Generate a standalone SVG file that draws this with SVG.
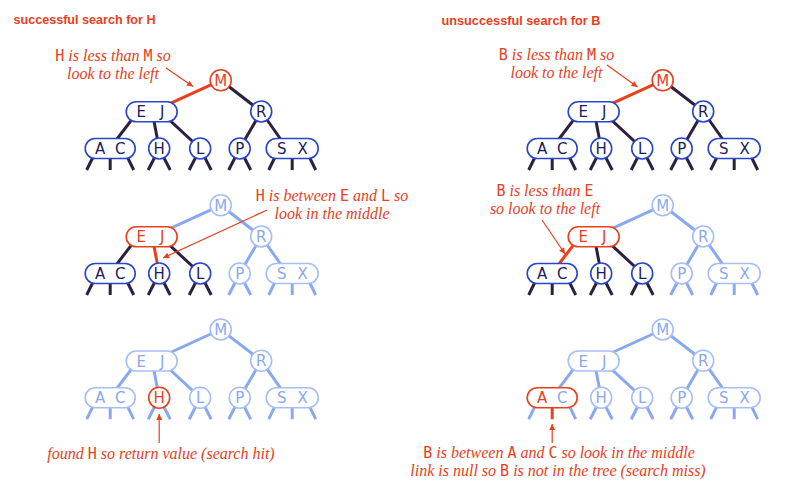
<svg xmlns="http://www.w3.org/2000/svg" width="808" height="494" viewBox="0 0 808 494">
<style>
.lk{stroke-width:3;fill:none}
.dk{stroke:#2d1f3f}
.lt{stroke:#88a8f0}
.rd{stroke:#e8401c}
.nd{fill:#fff;stroke-width:1.6}
.ndk{stroke:#2a46c8}
.nlt{stroke:#a6bef7}
.nrd{stroke:#e8401c}
.lbl{font-family:"DejaVu Sans",sans-serif;font-size:15px;text-anchor:middle}
.tdk{fill:#1c1c5c}
.tlt{fill:#8aa8f0}
.trd{fill:#e8401c}
.ttl{font-family:"Liberation Sans",Arial,sans-serif;font-weight:bold;font-size:13px;fill:#e8401c}
.ann{font-family:"Liberation Serif","Times New Roman",serif;font-style:italic;font-size:16px;fill:#e8401c;text-anchor:middle}
.k{font-family:"DejaVu Sans Mono",monospace;font-style:normal;font-size:15px}
.arr{stroke:#e8401c;stroke-width:1.2;fill:none;marker-end:url(#ah)}
</style>
<defs>
<marker id="ah" viewBox="0 0 10 10" refX="10" refY="5" markerWidth="8" markerHeight="6" orient="auto" markerUnits="userSpaceOnUse">
<path d="M0,0 L10,5 L0,10 z" fill="#e8401c"/>
</marker>
</defs>
<rect width="808" height="494" fill="#fff"/>

<text class="ttl" x="13.5" y="23.5" textLength="142" lengthAdjust="spacingAndGlyphs">successful search for H</text>
<text class="ttl" x="441.5" y="25" textLength="159" lengthAdjust="spacingAndGlyphs">unsuccessful search for B</text>

<!-- Tree 1 left -->
<g id="tree1-left" transform="translate(220.7,80.3)">
<g id="t1l-connectors">
<line class="lk rd" x1="0" y1="0" x2="-69" y2="31.5"/>
<line class="lk dk" x1="0" y1="0" x2="40.5" y2="31.2"/>
<line class="lk dk" x1="-83" y1="31.5" x2="-111" y2="68.2"/>
<line class="lk dk" x1="-68.5" y1="31.5" x2="-61.5" y2="68.2"/>
<line class="lk dk" x1="-60" y1="31.5" x2="-20.5" y2="68.2"/>
<line class="lk dk" x1="40.5" y1="31.2" x2="19" y2="68.2"/>
<line class="lk dk" x1="40.5" y1="31.2" x2="66.5" y2="68.2"/>
<line class="lk dk" x1="-123.5" y1="68.2" x2="-134" y2="89.7"/>
<line class="lk dk" x1="-110.5" y1="68.2" x2="-110.5" y2="89.7"/>
<line class="lk dk" x1="-97.5" y1="68.2" x2="-87" y2="89.7"/>
<line class="lk dk" x1="-61.5" y1="68.2" x2="-72.5" y2="89.7"/>
<line class="lk dk" x1="-61.5" y1="68.2" x2="-50.5" y2="89.7"/>
<line class="lk dk" x1="-20.5" y1="68.2" x2="-31.5" y2="89.7"/>
<line class="lk dk" x1="-20.5" y1="68.2" x2="-9.5" y2="89.7"/>
<line class="lk dk" x1="19" y1="68.2" x2="8" y2="89.7"/>
<line class="lk dk" x1="19" y1="68.2" x2="30" y2="89.7"/>
<line class="lk dk" x1="58.5" y1="68.2" x2="48" y2="89.7"/>
<line class="lk dk" x1="71.5" y1="68.2" x2="71.5" y2="89.7"/>
<line class="lk dk" x1="84.5" y1="68.2" x2="95" y2="89.7"/>
</g>
<g id="t1l-M"><circle class="nd nrd" cx="0" cy="0" r="10.5"/><text class="lbl trd" x="0" y="5.5">M</text></g>
<g id="t1l-EJ"><rect class="nd ndk" x="-94.5" y="21.5" width="51" height="20" rx="10"/><text class="lbl tdk" x="-79.5" y="37">E</text><text class="lbl tdk" x="-58.5" y="37">J</text></g>
<g id="t1l-R"><circle class="nd ndk" cx="40.5" cy="31.2" r="10.5"/><text class="lbl tdk" x="40.5" y="36.7">R</text></g>
<g id="t1l-AC"><rect class="nd ndk" x="-135.5" y="58.2" width="50" height="20" rx="10"/><text class="lbl tdk" x="-120.5" y="73.7">A</text><text class="lbl tdk" x="-100.5" y="73.7">C</text></g>
<g id="t1l-H"><circle class="nd ndk" cx="-61.5" cy="68.2" r="10.5"/><text class="lbl tdk" x="-61.5" y="73.7">H</text></g>
<g id="t1l-L"><circle class="nd ndk" cx="-20.5" cy="68.2" r="10.5"/><text class="lbl tdk" x="-20.5" y="73.7">L</text></g>
<g id="t1l-P"><circle class="nd ndk" cx="19" cy="68.2" r="10.5"/><text class="lbl tdk" x="19" y="73.7">P</text></g>
<g id="t1l-SX"><rect class="nd ndk" x="45.5" y="58.2" width="52" height="20" rx="10"/><text class="lbl tdk" x="61" y="73.7">S</text><text class="lbl tdk" x="82" y="73.7">X</text></g>
</g>

<!-- Tree 1 right -->
<g id="tree1-right" transform="translate(662.7,80.3)">
<g id="t1r-connectors">
<line class="lk rd" x1="0" y1="0" x2="-69" y2="31.5"/>
<line class="lk dk" x1="0" y1="0" x2="40.5" y2="31.2"/>
<line class="lk dk" x1="-83" y1="31.5" x2="-111" y2="68.2"/>
<line class="lk dk" x1="-68.5" y1="31.5" x2="-61.5" y2="68.2"/>
<line class="lk dk" x1="-60" y1="31.5" x2="-20.5" y2="68.2"/>
<line class="lk dk" x1="40.5" y1="31.2" x2="19" y2="68.2"/>
<line class="lk dk" x1="40.5" y1="31.2" x2="66.5" y2="68.2"/>
<line class="lk dk" x1="-123.5" y1="68.2" x2="-134" y2="89.7"/>
<line class="lk dk" x1="-110.5" y1="68.2" x2="-110.5" y2="89.7"/>
<line class="lk dk" x1="-97.5" y1="68.2" x2="-87" y2="89.7"/>
<line class="lk dk" x1="-61.5" y1="68.2" x2="-72.5" y2="89.7"/>
<line class="lk dk" x1="-61.5" y1="68.2" x2="-50.5" y2="89.7"/>
<line class="lk dk" x1="-20.5" y1="68.2" x2="-31.5" y2="89.7"/>
<line class="lk dk" x1="-20.5" y1="68.2" x2="-9.5" y2="89.7"/>
<line class="lk dk" x1="19" y1="68.2" x2="8" y2="89.7"/>
<line class="lk dk" x1="19" y1="68.2" x2="30" y2="89.7"/>
<line class="lk dk" x1="58.5" y1="68.2" x2="48" y2="89.7"/>
<line class="lk dk" x1="71.5" y1="68.2" x2="71.5" y2="89.7"/>
<line class="lk dk" x1="84.5" y1="68.2" x2="95" y2="89.7"/>
</g>
<g id="t1r-M"><circle class="nd nrd" cx="0" cy="0" r="10.5"/><text class="lbl trd" x="0" y="5.5">M</text></g>
<g id="t1r-EJ"><rect class="nd ndk" x="-94.5" y="21.5" width="51" height="20" rx="10"/><text class="lbl tdk" x="-79.5" y="37">E</text><text class="lbl tdk" x="-58.5" y="37">J</text></g>
<g id="t1r-R"><circle class="nd ndk" cx="40.5" cy="31.2" r="10.5"/><text class="lbl tdk" x="40.5" y="36.7">R</text></g>
<g id="t1r-AC"><rect class="nd ndk" x="-135.5" y="58.2" width="50" height="20" rx="10"/><text class="lbl tdk" x="-120.5" y="73.7">A</text><text class="lbl tdk" x="-100.5" y="73.7">C</text></g>
<g id="t1r-H"><circle class="nd ndk" cx="-61.5" cy="68.2" r="10.5"/><text class="lbl tdk" x="-61.5" y="73.7">H</text></g>
<g id="t1r-L"><circle class="nd ndk" cx="-20.5" cy="68.2" r="10.5"/><text class="lbl tdk" x="-20.5" y="73.7">L</text></g>
<g id="t1r-P"><circle class="nd ndk" cx="19" cy="68.2" r="10.5"/><text class="lbl tdk" x="19" y="73.7">P</text></g>
<g id="t1r-SX"><rect class="nd ndk" x="45.5" y="58.2" width="52" height="20" rx="10"/><text class="lbl tdk" x="61" y="73.7">S</text><text class="lbl tdk" x="82" y="73.7">X</text></g>
</g>

<!-- Tree 2 left -->
<g id="tree2-left" transform="translate(220.7,205.3)">
<g id="t2l-connectors">
<line class="lk lt" x1="0" y1="0" x2="-69" y2="31.5"/>
<line class="lk lt" x1="0" y1="0" x2="40.5" y2="31.2"/>
<line class="lk dk" x1="-83" y1="31.5" x2="-111" y2="68.2"/>
<line class="lk rd" x1="-68.5" y1="31.5" x2="-61.5" y2="68.2"/>
<line class="lk dk" x1="-60" y1="31.5" x2="-20.5" y2="68.2"/>
<line class="lk lt" x1="40.5" y1="31.2" x2="19" y2="68.2"/>
<line class="lk lt" x1="40.5" y1="31.2" x2="66.5" y2="68.2"/>
<line class="lk dk" x1="-123.5" y1="68.2" x2="-134" y2="89.7"/>
<line class="lk dk" x1="-110.5" y1="68.2" x2="-110.5" y2="89.7"/>
<line class="lk dk" x1="-97.5" y1="68.2" x2="-87" y2="89.7"/>
<line class="lk dk" x1="-61.5" y1="68.2" x2="-72.5" y2="89.7"/>
<line class="lk dk" x1="-61.5" y1="68.2" x2="-50.5" y2="89.7"/>
<line class="lk dk" x1="-20.5" y1="68.2" x2="-31.5" y2="89.7"/>
<line class="lk dk" x1="-20.5" y1="68.2" x2="-9.5" y2="89.7"/>
<line class="lk lt" x1="19" y1="68.2" x2="8" y2="89.7"/>
<line class="lk lt" x1="19" y1="68.2" x2="30" y2="89.7"/>
<line class="lk lt" x1="58.5" y1="68.2" x2="48" y2="89.7"/>
<line class="lk lt" x1="71.5" y1="68.2" x2="71.5" y2="89.7"/>
<line class="lk lt" x1="84.5" y1="68.2" x2="95" y2="89.7"/>
</g>
<g id="t2l-M"><circle class="nd nlt" cx="0" cy="0" r="10.5"/><text class="lbl tlt" x="0" y="5.5">M</text></g>
<g id="t2l-EJ"><rect class="nd nrd" x="-94.5" y="21.5" width="51" height="20" rx="10"/><text class="lbl trd" x="-79.5" y="37">E</text><text class="lbl trd" x="-58.5" y="37">J</text></g>
<g id="t2l-R"><circle class="nd nlt" cx="40.5" cy="31.2" r="10.5"/><text class="lbl tlt" x="40.5" y="36.7">R</text></g>
<g id="t2l-AC"><rect class="nd ndk" x="-135.5" y="58.2" width="50" height="20" rx="10"/><text class="lbl tdk" x="-120.5" y="73.7">A</text><text class="lbl tdk" x="-100.5" y="73.7">C</text></g>
<g id="t2l-H"><circle class="nd ndk" cx="-61.5" cy="68.2" r="10.5"/><text class="lbl tdk" x="-61.5" y="73.7">H</text></g>
<g id="t2l-L"><circle class="nd ndk" cx="-20.5" cy="68.2" r="10.5"/><text class="lbl tdk" x="-20.5" y="73.7">L</text></g>
<g id="t2l-P"><circle class="nd nlt" cx="19" cy="68.2" r="10.5"/><text class="lbl tlt" x="19" y="73.7">P</text></g>
<g id="t2l-SX"><rect class="nd nlt" x="45.5" y="58.2" width="52" height="20" rx="10"/><text class="lbl tlt" x="61" y="73.7">S</text><text class="lbl tlt" x="82" y="73.7">X</text></g>
</g>

<!-- Tree 2 right -->
<g id="tree2-right" transform="translate(662.7,205.3)">
<g id="t2r-connectors">
<line class="lk lt" x1="0" y1="0" x2="-69" y2="31.5"/>
<line class="lk lt" x1="0" y1="0" x2="40.5" y2="31.2"/>
<line class="lk rd" x1="-83" y1="31.5" x2="-111" y2="68.2"/>
<line class="lk dk" x1="-68.5" y1="31.5" x2="-61.5" y2="68.2"/>
<line class="lk dk" x1="-60" y1="31.5" x2="-20.5" y2="68.2"/>
<line class="lk lt" x1="40.5" y1="31.2" x2="19" y2="68.2"/>
<line class="lk lt" x1="40.5" y1="31.2" x2="66.5" y2="68.2"/>
<line class="lk dk" x1="-123.5" y1="68.2" x2="-134" y2="89.7"/>
<line class="lk dk" x1="-110.5" y1="68.2" x2="-110.5" y2="89.7"/>
<line class="lk dk" x1="-97.5" y1="68.2" x2="-87" y2="89.7"/>
<line class="lk dk" x1="-61.5" y1="68.2" x2="-72.5" y2="89.7"/>
<line class="lk dk" x1="-61.5" y1="68.2" x2="-50.5" y2="89.7"/>
<line class="lk dk" x1="-20.5" y1="68.2" x2="-31.5" y2="89.7"/>
<line class="lk dk" x1="-20.5" y1="68.2" x2="-9.5" y2="89.7"/>
<line class="lk lt" x1="19" y1="68.2" x2="8" y2="89.7"/>
<line class="lk lt" x1="19" y1="68.2" x2="30" y2="89.7"/>
<line class="lk lt" x1="58.5" y1="68.2" x2="48" y2="89.7"/>
<line class="lk lt" x1="71.5" y1="68.2" x2="71.5" y2="89.7"/>
<line class="lk lt" x1="84.5" y1="68.2" x2="95" y2="89.7"/>
</g>
<g id="t2r-M"><circle class="nd nlt" cx="0" cy="0" r="10.5"/><text class="lbl tlt" x="0" y="5.5">M</text></g>
<g id="t2r-EJ"><rect class="nd nrd" x="-94.5" y="21.5" width="51" height="20" rx="10"/><text class="lbl trd" x="-79.5" y="37">E</text><text class="lbl trd" x="-58.5" y="37">J</text></g>
<g id="t2r-R"><circle class="nd nlt" cx="40.5" cy="31.2" r="10.5"/><text class="lbl tlt" x="40.5" y="36.7">R</text></g>
<g id="t2r-AC"><rect class="nd ndk" x="-135.5" y="58.2" width="50" height="20" rx="10"/><text class="lbl tdk" x="-120.5" y="73.7">A</text><text class="lbl tdk" x="-100.5" y="73.7">C</text></g>
<g id="t2r-H"><circle class="nd ndk" cx="-61.5" cy="68.2" r="10.5"/><text class="lbl tdk" x="-61.5" y="73.7">H</text></g>
<g id="t2r-L"><circle class="nd ndk" cx="-20.5" cy="68.2" r="10.5"/><text class="lbl tdk" x="-20.5" y="73.7">L</text></g>
<g id="t2r-P"><circle class="nd nlt" cx="19" cy="68.2" r="10.5"/><text class="lbl tlt" x="19" y="73.7">P</text></g>
<g id="t2r-SX"><rect class="nd nlt" x="45.5" y="58.2" width="52" height="20" rx="10"/><text class="lbl tlt" x="61" y="73.7">S</text><text class="lbl tlt" x="82" y="73.7">X</text></g>
</g>

<!-- Tree 3 left -->
<g id="tree3-left" transform="translate(220.7,329.5)">
<g id="t3l-connectors">
<line class="lk lt" x1="0" y1="0" x2="-69" y2="31.5"/>
<line class="lk lt" x1="0" y1="0" x2="40.5" y2="31.2"/>
<line class="lk lt" x1="-83" y1="31.5" x2="-111" y2="68.2"/>
<line class="lk lt" x1="-68.5" y1="31.5" x2="-61.5" y2="68.2"/>
<line class="lk lt" x1="-60" y1="31.5" x2="-20.5" y2="68.2"/>
<line class="lk lt" x1="40.5" y1="31.2" x2="19" y2="68.2"/>
<line class="lk lt" x1="40.5" y1="31.2" x2="66.5" y2="68.2"/>
<line class="lk lt" x1="-123.5" y1="68.2" x2="-134" y2="89.7"/>
<line class="lk lt" x1="-110.5" y1="68.2" x2="-110.5" y2="89.7"/>
<line class="lk lt" x1="-97.5" y1="68.2" x2="-87" y2="89.7"/>
<line class="lk lt" x1="-61.5" y1="68.2" x2="-72.5" y2="89.7"/>
<line class="lk lt" x1="-61.5" y1="68.2" x2="-50.5" y2="89.7"/>
<line class="lk lt" x1="-20.5" y1="68.2" x2="-31.5" y2="89.7"/>
<line class="lk lt" x1="-20.5" y1="68.2" x2="-9.5" y2="89.7"/>
<line class="lk lt" x1="19" y1="68.2" x2="8" y2="89.7"/>
<line class="lk lt" x1="19" y1="68.2" x2="30" y2="89.7"/>
<line class="lk lt" x1="58.5" y1="68.2" x2="48" y2="89.7"/>
<line class="lk lt" x1="71.5" y1="68.2" x2="71.5" y2="89.7"/>
<line class="lk lt" x1="84.5" y1="68.2" x2="95" y2="89.7"/>
</g>
<g id="t3l-M"><circle class="nd nlt" cx="0" cy="0" r="10.5"/><text class="lbl tlt" x="0" y="5.5">M</text></g>
<g id="t3l-EJ"><rect class="nd nlt" x="-94.5" y="21.5" width="51" height="20" rx="10"/><text class="lbl tlt" x="-79.5" y="37">E</text><text class="lbl tlt" x="-58.5" y="37">J</text></g>
<g id="t3l-R"><circle class="nd nlt" cx="40.5" cy="31.2" r="10.5"/><text class="lbl tlt" x="40.5" y="36.7">R</text></g>
<g id="t3l-AC"><rect class="nd nlt" x="-135.5" y="58.2" width="50" height="20" rx="10"/><text class="lbl tlt" x="-120.5" y="73.7">A</text><text class="lbl tlt" x="-100.5" y="73.7">C</text></g>
<g id="t3l-H"><circle class="nd nrd" cx="-61.5" cy="68.2" r="10.5"/><text class="lbl trd" x="-61.5" y="73.7">H</text></g>
<g id="t3l-L"><circle class="nd nlt" cx="-20.5" cy="68.2" r="10.5"/><text class="lbl tlt" x="-20.5" y="73.7">L</text></g>
<g id="t3l-P"><circle class="nd nlt" cx="19" cy="68.2" r="10.5"/><text class="lbl tlt" x="19" y="73.7">P</text></g>
<g id="t3l-SX"><rect class="nd nlt" x="45.5" y="58.2" width="52" height="20" rx="10"/><text class="lbl tlt" x="61" y="73.7">S</text><text class="lbl tlt" x="82" y="73.7">X</text></g>
</g>

<!-- Tree 3 right -->
<g id="tree3-right" transform="translate(662.7,329.5)">
<g id="t3r-connectors">
<line class="lk lt" x1="0" y1="0" x2="-69" y2="31.5"/>
<line class="lk lt" x1="0" y1="0" x2="40.5" y2="31.2"/>
<line class="lk lt" x1="-83" y1="31.5" x2="-111" y2="68.2"/>
<line class="lk lt" x1="-68.5" y1="31.5" x2="-61.5" y2="68.2"/>
<line class="lk lt" x1="-60" y1="31.5" x2="-20.5" y2="68.2"/>
<line class="lk lt" x1="40.5" y1="31.2" x2="19" y2="68.2"/>
<line class="lk lt" x1="40.5" y1="31.2" x2="66.5" y2="68.2"/>
<line class="lk lt" x1="-123.5" y1="68.2" x2="-134" y2="89.7"/>
<line class="lk rd" x1="-110.5" y1="68.2" x2="-110.5" y2="89.7"/>
<line class="lk lt" x1="-97.5" y1="68.2" x2="-87" y2="89.7"/>
<line class="lk lt" x1="-61.5" y1="68.2" x2="-72.5" y2="89.7"/>
<line class="lk lt" x1="-61.5" y1="68.2" x2="-50.5" y2="89.7"/>
<line class="lk lt" x1="-20.5" y1="68.2" x2="-31.5" y2="89.7"/>
<line class="lk lt" x1="-20.5" y1="68.2" x2="-9.5" y2="89.7"/>
<line class="lk lt" x1="19" y1="68.2" x2="8" y2="89.7"/>
<line class="lk lt" x1="19" y1="68.2" x2="30" y2="89.7"/>
<line class="lk lt" x1="58.5" y1="68.2" x2="48" y2="89.7"/>
<line class="lk lt" x1="71.5" y1="68.2" x2="71.5" y2="89.7"/>
<line class="lk lt" x1="84.5" y1="68.2" x2="95" y2="89.7"/>
</g>
<g id="t3r-M"><circle class="nd nlt" cx="0" cy="0" r="10.5"/><text class="lbl tlt" x="0" y="5.5">M</text></g>
<g id="t3r-EJ"><rect class="nd nlt" x="-94.5" y="21.5" width="51" height="20" rx="10"/><text class="lbl tlt" x="-79.5" y="37">E</text><text class="lbl tlt" x="-58.5" y="37">J</text></g>
<g id="t3r-R"><circle class="nd nlt" cx="40.5" cy="31.2" r="10.5"/><text class="lbl tlt" x="40.5" y="36.7">R</text></g>
<g id="t3r-AC"><rect class="nd nrd" x="-135.5" y="58.2" width="50" height="20" rx="10"/><text class="lbl trd" x="-120.5" y="73.7">A</text><text class="lbl tlt" x="-100.5" y="73.7">C</text></g>
<g id="t3r-H"><circle class="nd nlt" cx="-61.5" cy="68.2" r="10.5"/><text class="lbl tlt" x="-61.5" y="73.7">H</text></g>
<g id="t3r-L"><circle class="nd nlt" cx="-20.5" cy="68.2" r="10.5"/><text class="lbl tlt" x="-20.5" y="73.7">L</text></g>
<g id="t3r-P"><circle class="nd nlt" cx="19" cy="68.2" r="10.5"/><text class="lbl tlt" x="19" y="73.7">P</text></g>
<g id="t3r-SX"><rect class="nd nlt" x="45.5" y="58.2" width="52" height="20" rx="10"/><text class="lbl tlt" x="61" y="73.7">S</text><text class="lbl tlt" x="82" y="73.7">X</text></g>
</g>

<!-- annotation arrows -->
<g id="annotation-arrows">
<line class="arr" x1="166" y1="68" x2="193" y2="86.5"/>
<line class="arr" x1="607" y1="65" x2="637.5" y2="87"/>
<line class="arr" x1="267" y1="210" x2="163" y2="258"/>
<line class="arr" x1="542" y1="220" x2="565" y2="254"/>
<line class="arr" x1="159.2" y1="443" x2="159.2" y2="414"/>
<line class="arr" x1="552.2" y1="443" x2="552.2" y2="424"/>
</g>

<!-- annotations -->
<text class="ann" x="113" y="61"><tspan class="k">H</tspan> is less than <tspan class="k">M</tspan> so</text>
<text class="ann" x="113" y="79">look to the left</text>
<text class="ann" x="556.5" y="59.5"><tspan class="k">B</tspan> is less than <tspan class="k">M</tspan> so</text>
<text class="ann" x="556.5" y="77.5">look to the left</text>
<text class="ann" x="332" y="200.5"><tspan class="k">H</tspan> is between <tspan class="k">E</tspan> and <tspan class="k">L</tspan> so</text>
<text class="ann" x="332" y="219">look in the middle</text>
<text class="ann" x="545" y="196"><tspan class="k">B</tspan> is less than <tspan class="k">E</tspan></text>
<text class="ann" x="545" y="213.5">so look to the left</text>
<text class="ann" x="161" y="459">found <tspan class="k">H</tspan> so return value (search hit)</text>
<text class="ann" x="559" y="458"><tspan class="k">B</tspan> is between <tspan class="k">A</tspan> and <tspan class="k">C</tspan> so look in the middle</text>
<text class="ann" x="558" y="475.5">link is null so <tspan class="k">B</tspan> is not in the tree (search miss)</text>
</svg>
